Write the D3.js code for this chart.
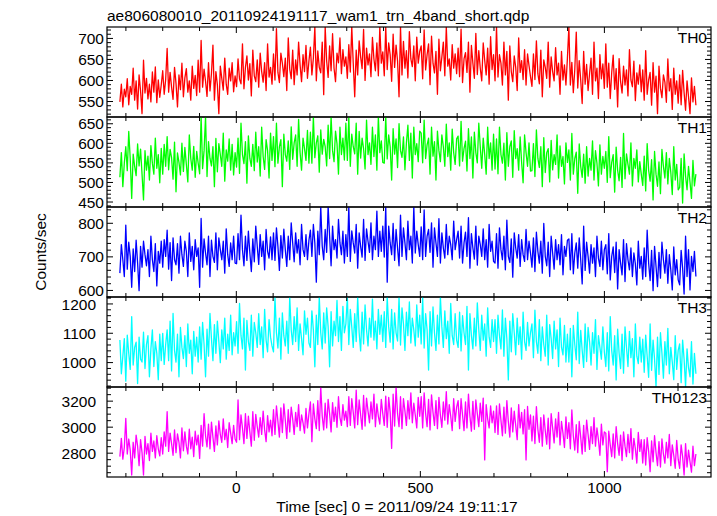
<!DOCTYPE html>
<html><head><meta charset="utf-8">
<script src="https://cdn.jsdelivr.net/npm/d3@7"></script>
<style>
body{margin:0;background:#fff}
svg{display:block}
text{font-family:"Liberation Sans",Arial,Helvetica,sans-serif;fill:#000}
</style>
</head><body>
<svg id="chart" width="717" height="516"></svg>
<script>
// ---------------- data ----------------
const title = "ae806080010_20110924191117_wam1_trn_4band_short.qdp";
const xLabel = "Time [sec] 0 = 2011/09/24 19:11:17";
const yLabel = "Counts/sec";
const panelNames = ["TH0", "TH1", "TH2", "TH3", "TH0123"];
const tStart = -315, tEnd = 1250;          // time of first / last bin (sec)
const xDomain = [-350, 1291];
const xMajorTicks = [0, 500, 1000];
const xMinorStep = 100;

const yDomains = [[512, 726], [436, 666], [579, 847], [915, 1222], [2613, 3305]];
const yMajorTicks = [[550, 600, 650, 700], [450, 500, 550, 600, 650], [600, 700, 800], [1000, 1100, 1200], [2800, 3000, 3200]];
const yMinorSteps = [10, 10, 20, 20, 50];

const th0 = [
548,590,536,578,560,603,541,585,566,628,552,598,531,612,574,520,647,569,604,555,590,548,619,571,631,546,600,559,588,
622,566,601,675,571,618,583,554,630,592,536,612,577,640,560,605,627,571,598,552,633,580,611,563,647,
571,694,583,626,597,561,641,574,615,683,552,620,589,520,633,604,576,652,590,566,628,598,641,572,610,
584,650,602,591,686,579,630,657,600,639,562,671,610,596,648,583,664,620,595,641,575,686,607,630,590,
662,600,722,618,594,664,640,608,652,575,700,626,603,671,589,648,612,690,636,596,660,620,682,604,645,
678,612,652,726,598,669,630,617,690,565,726,645,606,681,622,710,628,596,664,641,700,615,672,633,655,
604,684,619,726,640,560,671,612,693,655,627,720,599,676,636,662,608,701,650,622,688,610,726,640,667,
610,726,625,688,660,597,709,630,683,645,560,726,612,692,628,670,605,715,650,632,681,598,702,640,668,
681,603,719,624,660,686,589,704,640,617,668,566,697,622,655,690,610,726,633,650,600,684,628,662,615,
676,608,721,594,650,665,618,690,571,682,640,604,711,613,670,628,598,688,647,612,676,590,703,625,660,
598,726,607,660,640,588,690,612,668,552,681,620,596,657,630,575,700,618,646,601,672,588,662,634,608,
585,662,601,693,615,591,671,560,648,630,604,690,583,655,620,598,677,612,640,566,668,600,636,588,652,
726,588,642,570,625,714,581,646,600,544,668,590,637,575,615,652,566,690,598,628,556,660,603,638,580,
686,583,640,556,618,659,578,627,536,651,596,569,633,588,624,562,672,600,584,645,551,617,590,636,572,
624,552,670,566,600,618,540,641,571,609,520,633,580,558,612,595,547,650,574,603,530,628,566,598,545,
612,541,623,570,528,598,560,520,605,548,585,540];

const th1 = [
512,575,488,548,590,529,629,560,458,571,540,516,597,541,584,520,454,580,530,566,505,593,548,520,612,535,570,498,586,
520,596,540,616,531,583,562,507,602,475,574,550,518,599,527,588,545,500,620,560,530,591,512,578,548,
521,667,534,580,667,514,603,560,541,590,488,611,526,598,570,540,625,502,582,553,610,530,596,518,575,
538,612,522,650,570,547,603,497,618,560,540,596,529,627,551,590,515,640,565,532,608,580,510,625,555,
616,539,650,548,590,608,488,622,570,553,605,532,641,558,600,620,540,660,575,530,612,585,555,632,548,
627,548,667,562,600,618,525,633,571,609,590,541,645,560,667,580,552,630,598,520,640,570,612,556,650,
555,667,540,622,590,572,650,520,629,561,612,585,533,658,570,600,545,640,565,620,530,667,575,605,550,
548,667,559,620,590,505,636,571,610,537,649,580,563,615,531,600,645,555,625,510,640,570,598,552,630,
625,549,658,560,595,612,520,640,566,603,505,630,580,552,620,590,540,648,565,600,530,635,575,545,610,
617,541,655,553,585,604,528,636,560,615,510,627,575,549,650,590,535,612,570,520,640,560,600,530,622,
533,610,521,640,570,548,599,505,626,540,590,605,512,631,560,585,530,615,550,498,620,575,540,600,528,
529,598,514,633,560,537,590,488,613,524,575,585,500,606,531,570,545,620,510,592,540,565,495,600,550,
582,505,624,520,560,576,471,597,540,512,571,497,590,515,560,530,605,505,580,548,490,595,520,565,535,
578,499,616,511,550,570,474,589,530,503,563,486,624,508,572,545,520,600,490,560,535,582,500,552,520,
491,566,477,598,530,502,557,454,578,520,489,551,470,583,540,510,575,495,560,525,468,590,505,545,480,
486,560,446,572,515,480,540,500,458,555,490,520];

const th2 = [
650,735,690,640,793,662,742,700,608,722,655,748,680,598,730,668,745,705,672,720,640,760,690,655,738,612,715,680,745,
668,750,700,778,662,741,628,755,690,675,738,650,760,705,670,745,715,640,770,685,730,660,750,700,725,
608,813,668,752,710,675,760,640,748,700,682,770,660,755,720,690,745,650,782,705,670,740,690,760,680,
678,768,690,823,720,672,760,688,775,710,655,752,684,790,730,676,765,700,745,660,780,715,695,758,690,
770,688,785,730,658,762,695,781,720,670,760,690,800,740,684,770,710,750,675,795,720,700,765,690,748,
778,700,795,740,623,775,705,848,730,690,780,712,848,760,672,790,720,750,695,810,740,705,775,680,765,
700,848,685,776,740,710,795,665,770,730,698,810,688,782,745,712,800,690,760,720,835,700,775,715,790,
698,848,623,790,740,705,798,688,780,725,672,823,700,785,740,690,805,720,760,680,848,710,775,735,700,
788,690,838,700,760,780,712,800,668,785,740,700,812,680,770,725,695,795,705,760,735,690,805,720,750,
775,695,790,680,740,772,700,815,665,768,725,692,790,674,760,735,700,782,690,750,668,795,715,745,685,
680,768,665,785,720,690,760,660,808,700,682,752,638,770,725,695,765,670,750,705,685,780,690,745,710,
668,755,655,772,715,680,745,650,798,700,672,742,640,760,710,662,750,690,735,675,765,645,730,700,748,
752,660,768,648,710,740,665,755,690,618,790,658,742,700,650,735,680,725,640,760,695,670,745,660,720,
735,648,768,630,700,728,652,742,603,720,680,645,750,625,738,690,660,725,640,710,678,615,745,665,700,
632,725,640,778,680,628,718,598,730,670,610,712,635,742,690,650,720,620,705,660,600,728,645,690,630,
615,718,665,588,760,640,720,600,700,655,715,640];

const th3 = [
1075,960,1020,1080,935,1092,1030,975,1155,990,1050,1068,927,1085,1010,1000,1102,978,1060,1090,950,1045,1110,985,1070,1030,940,1095,1005,
1098,992,1060,1110,1005,1140,970,1166,1040,1000,1095,950,1118,1050,1012,1090,985,1130,1030,1075,960,1105,1020,1085,1000,
1120,1010,1135,1060,950,1112,1020,1166,1080,1005,1128,1030,1140,1070,998,1110,1045,1150,1010,1095,1040,1160,1025,1100,1055,
1138,1030,1200,1090,1045,1150,973,1142,1070,1040,1160,1020,1135,1100,1050,1165,1060,1120,1015,1180,1075,1035,1145,1085,1055,
1035,1222,1100,1048,1150,1010,1168,1090,1055,1140,1030,1222,1110,1060,1155,1070,1185,1040,1130,1080,1025,1175,1095,1150,1065,
1050,1175,1110,984,1160,1060,1222,1100,1045,1168,1065,1185,1120,984,1172,1055,1140,1090,1210,1070,1155,1040,1190,1100,1130,
1222,1060,1180,1120,1050,1165,1070,1222,1100,1038,1170,1062,1195,1110,1055,1150,1085,1215,1075,1140,1045,1180,1095,1160,1070,
1172,1050,1222,1120,1068,1180,1045,1168,1100,1072,1222,1058,1185,1130,1040,1170,1090,1205,1065,1150,1110,1055,1195,1085,1160,
1062,1222,1048,1165,1110,973,1172,1055,1188,1100,1040,1160,1062,1222,1120,1050,1175,1080,1140,1030,1200,1090,1060,1165,1075,
1050,1170,1038,1158,1100,1060,1190,973,1165,1090,1045,1150,1055,1202,1110,1040,1160,1075,1130,1020,1185,1085,1050,1145,1070,
1145,1030,1160,1090,1045,1178,1020,1150,1080,939,1140,1035,1165,1100,1025,1150,1060,1120,1010,1170,1070,1040,1135,1055,1100,
1130,1015,1177,1070,1030,1145,1005,1120,1060,1020,1160,990,1128,1080,1012,1140,1045,1110,985,1150,1050,1025,1125,1000,1095,
1000,1115,950,1125,1060,1008,1170,995,1108,1040,982,1130,1002,1118,1070,990,1100,1030,1145,975,1090,1050,1010,1120,1035,
985,1100,970,1155,1040,990,1090,939,1112,1030,978,1095,962,1120,1050,985,1105,1015,1080,950,1130,1020,995,1085,1000,
1078,965,1092,1020,948,1130,972,1075,1010,916,1085,958,1100,1030,945,1070,990,1115,960,1050,1000,940,1090,975,1040,
1062,930,1075,1010,916,1045,980,950,1070,925,1030,960];

const th0123 = [
2770,2910,2750,2840,3064,2790,2905,2820,2628,2880,2760,2935,2850,2700,2900,2800,2628,2925,2790,2870,2740,2950,2810,2890,2760,2930,2830,2775,2915,
2790,2960,2850,3115,2810,2950,2870,2780,2975,2800,2945,2880,2760,2990,2815,2960,2850,2790,2980,2830,2920,2770,2965,2860,2935,
2756,3010,2850,3100,2930,2845,3020,2830,3035,2920,2810,3005,2860,3045,2940,2880,3060,2900,2980,2840,3030,2950,2870,3010,2905,
2880,3205,2900,3090,2990,2870,3100,2910,3080,2960,2850,3115,2895,3095,3000,2920,3070,2940,3120,2975,2885,3085,2960,3050,2930,
3130,2940,3160,3040,2920,3145,2955,3175,3050,2910,3130,2960,3150,3060,2940,3110,3000,3170,2970,3090,3030,2950,3140,2990,3100,
3190,2885,3175,3060,2985,3200,2970,3305,3080,2975,3180,2990,3210,3100,2960,3185,3040,3150,2995,3230,3070,3010,3170,3050,3120,
3000,3230,3010,3215,3110,2990,3280,3015,3205,3090,2980,3240,3005,3220,3120,3030,3190,3060,3250,3000,3175,3080,3020,3210,3100,
3010,3235,2995,3225,3110,2833,3250,3005,3305,3100,3000,3230,2985,3215,3120,3010,3200,3060,3260,3030,3180,3090,2990,3225,3080,
3230,2990,3260,3100,3000,3210,2975,3245,3110,3010,3200,2985,3225,3090,2995,3190,3050,3270,3020,3170,3080,2970,3215,3040,3150,
3200,2985,3215,3090,2970,3190,2990,3250,3080,2965,3195,2980,3205,3100,3000,3180,3040,3220,2744,3170,3060,2990,3160,3030,3120,
2955,3160,2940,3175,3050,2930,3150,2950,3200,3040,2920,3145,2960,3120,3010,2900,3170,2990,3110,2944,3130,2744,3155,2980,3090,
2890,3080,2870,3154,2980,2880,3070,2850,3090,2970,2865,3065,2830,3100,2990,2875,3060,2920,3110,2860,3040,2950,2840,3075,2910,
3030,2830,3128,2930,2820,3015,2800,3040,2920,2790,3010,2810,3050,2940,2825,3000,2870,3070,2850,2990,2900,2780,3020,2860,2960,
2950,2654,2965,2860,2770,2945,2760,3000,2870,2780,2935,2740,2960,2850,2770,2940,2800,2985,2750,2910,2830,2720,2955,2810,2900,
2720,2900,2705,2915,2810,2654,2890,2730,2930,2800,2700,2885,2690,2905,2790,2720,2880,2760,2940,2700,2860,2780,2680,2895,2750,
2680,2860,2770,2628,2870,2690,2820,2730,2650,2850,2700,2790];

const series = [th0, th1, th2, th3, th0123];

// ---------------- layout / style ----------------
const colors = ["#ff0000", "#00ff00", "#0000ff", "#00ffff", "#ff00ff"];
const mLeft = 107, mRight = 711, mTop = 27, panelH = 90;
const fontSize = "15.5px";

const svg = d3.select("#chart");
const x = d3.scaleLinear().domain(xDomain).range([mLeft, mRight]);

function minors(domain, step, majors) {
  const out = [];
  for (let v = Math.ceil(domain[0] / step) * step; v <= domain[1]; v += step) {
    if (!majors.includes(v)) out.push(v);
  }
  return out;
}
const xMinor = minors(xDomain, xMinorStep, xMajorTicks);

svg.append("text").attr("x", 107).attr("y", 20.5)
  .style("font-size", fontSize).text(title);

series.forEach((vals, p) => {
  const g = svg.append("g").attr("transform", `translate(0,${mTop + p * panelH})`);
  const y = d3.scaleLinear().domain(yDomains[p]).range([panelH, 0]);
  const n = vals.length;
  const step = (tEnd - tStart) / (n - 1);

  const clipId = "clip" + p;
  g.append("clipPath").attr("id", clipId)
    .append("rect").attr("x", mLeft).attr("y", 0).attr("width", mRight - mLeft).attr("height", panelH);

  const line = d3.line().x((d, i) => x(tStart + i * step)).y(d => y(d));
  g.append("path").datum(vals)
    .attr("clip-path", `url(#${clipId})`)
    .attr("fill", "none").attr("stroke", colors[p])
    .attr("stroke-width", 1.3).attr("stroke-linejoin", "round")
    .attr("d", line);

  const yMin = minors(yDomains[p], yMinorSteps[p], yMajorTicks[p]);
  const fourDigit = String(yMajorTicks[p][0]).length > 3;

  const la = g.append("g").attr("transform", `translate(${mLeft},0)`)
    .call(d3.axisLeft(y).tickValues(yMajorTicks[p]).tickSizeInner(-6).tickSizeOuter(0)
      .tickPadding(fourDigit ? 11 : 3).tickFormat(d3.format("d")));
  la.selectAll("text").style("font-size", fontSize).attr("dy", "0.36em");
  g.append("g").attr("transform", `translate(${mLeft},0)`)
    .call(d3.axisLeft(y).tickValues(yMin).tickSizeInner(-4).tickSizeOuter(0).tickFormat(""));
  g.append("g").attr("transform", `translate(${mRight},0)`)
    .call(d3.axisRight(y).tickValues(yMajorTicks[p]).tickSizeInner(-6).tickSizeOuter(0).tickFormat(""));
  g.append("g").attr("transform", `translate(${mRight},0)`)
    .call(d3.axisRight(y).tickValues(yMin).tickSizeInner(-4).tickSizeOuter(0).tickFormat(""));
  g.append("g").call(d3.axisTop(x).tickValues(xMajorTicks).tickSizeInner(-6).tickSizeOuter(0).tickFormat(""));
  g.append("g").call(d3.axisTop(x).tickValues(xMinor).tickSizeInner(-4).tickSizeOuter(0).tickFormat(""));
  const last = p === series.length - 1;
  const ba = g.append("g").attr("transform", `translate(0,${panelH})`)
    .call(d3.axisBottom(x).tickValues(xMajorTicks).tickSizeInner(-6).tickSizeOuter(0)
      .tickPadding(5).tickFormat(last ? d3.format("d") : ""));
  ba.selectAll("text").style("font-size", fontSize);
  g.append("g").attr("transform", `translate(0,${panelH})`)
    .call(d3.axisBottom(x).tickValues(xMinor).tickSizeInner(-4).tickSizeOuter(0).tickFormat(""));

  g.selectAll(".domain").remove();
  g.selectAll(".tick line").attr("stroke", "#000").attr("stroke-width", 1);
  g.selectAll(".tick text").attr("fill", "#000").style("font-family", '"Liberation Sans",Arial,sans-serif');

  g.append("rect").attr("x", mLeft).attr("y", 0).attr("width", mRight - mLeft).attr("height", panelH)
    .attr("fill", "none").attr("stroke", "#000").attr("stroke-width", 1.2);

  g.append("text").attr("x", 707).attr("y", 15.5).attr("text-anchor", "end")
    .style("font-size", fontSize).text(panelNames[p]);
});

svg.append("text").attr("x", 397).attr("y", 512).attr("text-anchor", "middle")
  .style("font-size", fontSize).text(xLabel);

svg.append("text").attr("transform", `translate(46,252) rotate(-90)`)
  .attr("text-anchor", "middle").style("font-size", fontSize).text(yLabel);
</script>
</body></html>
